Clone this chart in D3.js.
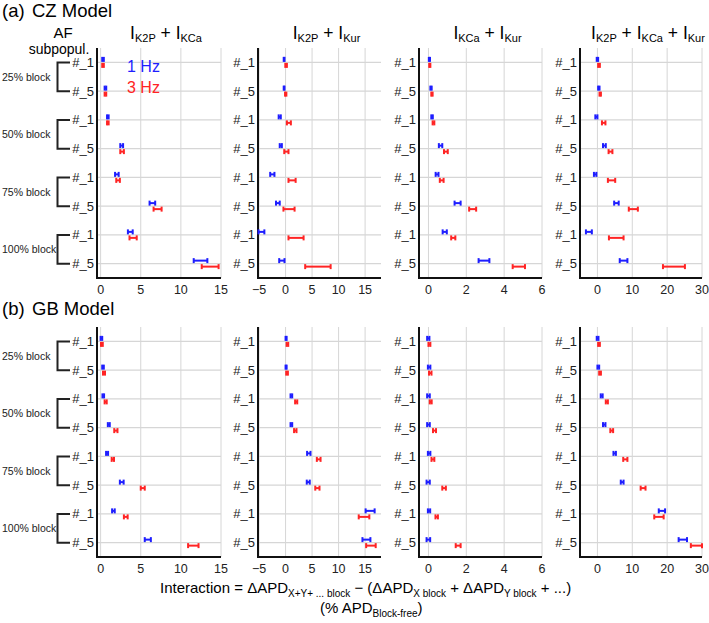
<!DOCTYPE html>
<html lang="en">
<head>
<meta charset="UTF-8" />
<title>Interaction of combined block</title>
<style>
  body { margin:0; background:#fff; }
  svg { font-family: "Liberation Sans", Arial, sans-serif; }
</style>
</head>
<body>
<svg id="chart" width="709" height="623"></svg>
<script src="https://d3js.org/d3.v7.min.js"></script>
<script>
// ---- data ----
const models = ["CZ Model", "GB Model"];
const modelTags = ["(a)", "(b)"];
const combos = [
  [["K2P"], ["KCa"]],
  [["K2P"], ["Kur"]],
  [["KCa"], ["Kur"]],
  [["K2P"], ["KCa"], ["Kur"]]
];
const blockLevels = ["25% block", "50% block", "75% block", "100% block"];
const subpops = ["#_1", "#_5"];
const freqs = ["1 Hz", "3 Hz"];
const xDomains = [[-0.45, 15], [-5.2, 18], [-0.5, 6], [-5, 30]];
const xTicks = [[0, 5, 10, 15], [-5, 0, 5, 10, 15], [0, 2, 4, 6], [0, 10, 20, 30]];

// rows: 25%#_1, 25%#_5, 50%#_1, 50%#_5, 75%#_1, 75%#_5, 100%#_1, 100%#_5  -> [low, high]
const cz_k2p_kca_1hz = [[0.2,0.4],[0.5,0.7],[0.8,1.0],[2.45,2.8],[1.8,2.25],[6.1,6.8],[3.4,4.0],[11.6,13.3]];
const cz_k2p_kca_3hz = [[0.2,0.4],[0.5,0.7],[0.8,1.0],[2.45,2.9],[1.95,2.4],[6.6,7.6],[3.6,4.5],[12.6,14.7]];
const cz_k2p_kur_1hz = [[-0.35,-0.2],[-0.35,-0.2],[-1.3,-0.9],[-1.1,-0.7],[-2.9,-2.1],[-1.8,-1.1],[-5.1,-4.0],[-1.2,-0.2]];
const cz_k2p_kur_3hz = [[-0.05,0.25],[-0.1,0.15],[0.25,1.0],[-0.25,0.55],[0.55,1.9],[-0.4,1.7],[0.55,3.4],[3.7,8.5]];
const cz_kca_kur_1hz = [[0.02,0.08],[0.1,0.17],[0.15,0.23],[0.55,0.73],[0.38,0.53],[1.38,1.7],[0.75,0.97],[2.65,3.22]];
const cz_kca_kur_3hz = [[0.04,0.1],[0.15,0.22],[0.22,0.31],[0.82,1.02],[0.6,0.8],[2.15,2.52],[1.2,1.42],[4.45,5.1]];
const cz_all_1hz = [[-0.2,0.2],[0.2,0.6],[-0.6,0],[1.6,2.4],[-1.0,-0.3],[4.8,6.1],[-3.3,-1.6],[6.4,8.6]];
const cz_all_3hz = [[0.2,0.7],[0.6,1.0],[1.3,2.3],[3.2,4.3],[3.0,5.1],[9.0,11.6],[3.3,7.5],[18.8,25.1]];

const gb_k2p_kca_1hz = [[0,0.2],[0.2,0.4],[0.23,0.43],[0.9,1.14],[0.68,0.93],[2.4,2.87],[1.43,1.76],[5.5,6.26]];
const gb_k2p_kca_3hz = [[0.05,0.27],[0.3,0.55],[0.5,0.76],[1.7,2.1],[1.38,1.67],[5.0,5.5],[2.9,3.37],[10.9,12.2]];
const gb_k2p_kur_1hz = [[0,0.2],[0,0.2],[0.94,1.25],[0.94,1.25],[4.06,4.7],[4.0,4.56],[15.1,16.8],[14.5,16.0]];
const gb_k2p_kur_3hz = [[0.2,0.5],[0.12,0.44],[1.8,2.2],[1.6,2.06],[5.9,6.6],[5.6,6.4],[13.8,15.8],[15.2,17.0]];
const gb_kca_kur_1hz = [[-0.07,0.05],[-0.03,0.1],[-0.07,0.07],[-0.07,0.07],[-0.03,0.1],[-0.1,0.07],[-0.03,0.09],[-0.1,0.09]];
const gb_kca_kur_3hz = [[0,0.1],[0.03,0.16],[0.07,0.17],[0.24,0.4],[0.16,0.31],[0.73,0.92],[0.37,0.5],[1.44,1.7]];
const gb_all_1hz = [[-0.2,0.3],[0,0.5],[0.95,1.5],[1.6,2.3],[4.6,5.3],[6.7,7.5],[17.6,19.4],[23.3,25.7]];
const gb_all_3hz = [[0.2,0.7],[0.5,1.0],[2.4,3.0],[3.7,4.5],[7.4,8.6],[12.4,13.8],[16.3,19.0],[26.8,30.0]];

const panelData = [
  [[cz_k2p_kca_1hz, cz_k2p_kca_3hz], [cz_k2p_kur_1hz, cz_k2p_kur_3hz],
   [cz_kca_kur_1hz, cz_kca_kur_3hz], [cz_all_1hz, cz_all_3hz]],
  [[gb_k2p_kca_1hz, gb_k2p_kca_3hz], [gb_k2p_kur_1hz, gb_k2p_kur_3hz],
   [gb_kca_kur_1hz, gb_kca_kur_3hz], [gb_all_1hz, gb_all_3hz]]
];

// ---- layout ----
const svg = d3.select("#chart");
const colors = ["#1e1eff", "#ff2424"];
const offsets = [-3, 3];
const colLeft = [97, 258, 419, 580], colW = [124, 123, 123, 122];
const rowTop = [48, 327], plotH = 230, titleY = [17, 315];
const rowKeys = blockLevels.flatMap(b => subpops.map(s => b + s));

models.forEach((model, mi) => {
  const top = rowTop[mi], bottom = top + plotH;
  const y = d3.scaleBand().domain(rowKeys).range([top, bottom]);
  const yc = k => y(k) + y.bandwidth() / 2;

  // model title
  svg.append("text").attr("x", 2).attr("y", titleY[mi])
    .style("font-size", "18.5px").text(modelTags[mi]);
  svg.append("text").attr("x", 32).attr("y", titleY[mi])
    .style("font-size", "18.5px").text(model);

  // group brackets + labels (left of first column)
  blockLevels.forEach(b => {
    const y1 = yc(b + subpops[0]), y2 = yc(b + subpops[1]);
    svg.append("path")
      .attr("d", `M70,${y1}H57.5V${y2}H70`)
      .attr("fill", "none").attr("stroke", "#222").attr("stroke-width", 2);
    svg.append("text").attr("x", 2).attr("y", (y1 + y2) / 2 + 4)
      .style("font-size", "10.5px").style("fill", "#222").text(b);
  });

  combos.forEach((combo, ci) => {
    const x = d3.scaleLinear().domain(xDomains[ci])
      .range([colLeft[ci], colLeft[ci] + colW[ci]]);
    const g = svg.append("g");

    // grid
    g.selectAll(".vg").data(xTicks[ci]).join("line")
      .attr("x1", d => x(d)).attr("x2", d => x(d))
      .attr("y1", top).attr("y2", bottom)
      .attr("stroke", "#d6d6d6").attr("stroke-width", 1);
    g.selectAll(".hg").data(rowKeys).join("line")
      .attr("x1", x.range()[0]).attr("x2", x.range()[1])
      .attr("y1", d => yc(d)).attr("y2", d => yc(d))
      .attr("stroke", "#d6d6d6").attr("stroke-width", 1.3);

    // y labels
    g.selectAll(".yl").data(rowKeys).join("text")
      .attr("x", x.range()[0] - 3).attr("y", d => yc(d) + 4.5)
      .attr("text-anchor", "end").style("font-size", "13px").style("fill", "#222")
      .text(d => d.slice(-3));

    // axes
    g.append("line").attr("x1", x.range()[0]).attr("x2", x.range()[0])
      .attr("y1", top).attr("y2", bottom).attr("stroke", "#111").attr("stroke-width", 2);
    g.append("line").attr("x1", x.range()[0] - 1).attr("x2", x.range()[1])
      .attr("y1", bottom).attr("y2", bottom).attr("stroke", "#111").attr("stroke-width", 2);
    g.selectAll(".xl").data(xTicks[ci]).join("text")
      .attr("x", d => x(d)).attr("y", bottom + 16)
      .attr("text-anchor", "middle").style("font-size", "12.5px").style("fill", "#222")
      .text(d => d < 0 ? "\u2212" + Math.abs(d) : d);

    // column title (top row only)
    if (mi === 0) {
      const t = g.append("text")
        .attr("x", (x.range()[0] + x.range()[1]) / 2 + 7).attr("y", 39)
        .attr("text-anchor", "middle").style("font-size", "17.5px");
      combo.forEach((c, k) => {
        t.append("tspan").attr("dy", k ? -3 : 0).text((k ? " + " : "") + "I");
        t.append("tspan").attr("dy", 3).style("font-size", "11px").text(c[0]);
      });
    }

    // error bars
    freqs.forEach((f, fi) => {
      const vals = panelData[mi][ci][fi];
      const bars = g.append("g").attr("stroke", colors[fi]).attr("stroke-width", 2);
      vals.forEach((v, ri) => {
        const yy = yc(rowKeys[ri]) + offsets[fi];
        bars.append("line").attr("x1", x(v[0])).attr("x2", x(v[1]))
          .attr("y1", yy).attr("y2", yy);
        [v[0], v[1]].forEach(e => bars.append("line")
          .attr("x1", x(e)).attr("x2", x(e))
          .attr("y1", yy - 2.5).attr("y2", yy + 2.5));
      });
    });
  });
});

// header texts
svg.append("text").attr("x", 63).attr("y", 38).attr("text-anchor", "middle")
  .style("font-size", "15px").text("AF");
svg.append("text").attr("x", 59).attr("y", 53.5).attr("text-anchor", "middle")
  .style("font-size", "14px").text("subpopul.");

// legend
freqs.forEach((f, fi) => {
  svg.append("text").attr("x", 127).attr("y", 72 + fi * 21)
    .style("font-size", "16px").style("fill", colors[fi]).text(f);
});

// bottom axis title
const lab = svg.append("text").attr("x", 160).attr("y", 593).style("font-size", "15px");
[["Interaction = \u0394APD", 0], ["X+Y+ ... block", 1], [" \u2212 (\u0394APD", 0],
 ["X block", 1], [" + \u0394APD", 0], ["Y block", 1], [" + ...)", 0]].forEach(([s, sub], i, arr) => {
  const prev = i > 0 ? arr[i - 1][1] : 0;
  lab.append("tspan").attr("dy", sub && !prev ? 3.5 : (!sub && prev ? -3.5 : 0))
    .style("font-size", sub ? "10px" : "15px").text(s);
});
const lab2 = svg.append("text").attr("x", 320).attr("y", 613).style("font-size", "15px");
lab2.append("tspan").text("(% APD");
lab2.append("tspan").attr("dy", 3.5).style("font-size", "10px").text("Block-free");
lab2.append("tspan").attr("dy", -3.5).text(")");
</script>
</body>
</html>
